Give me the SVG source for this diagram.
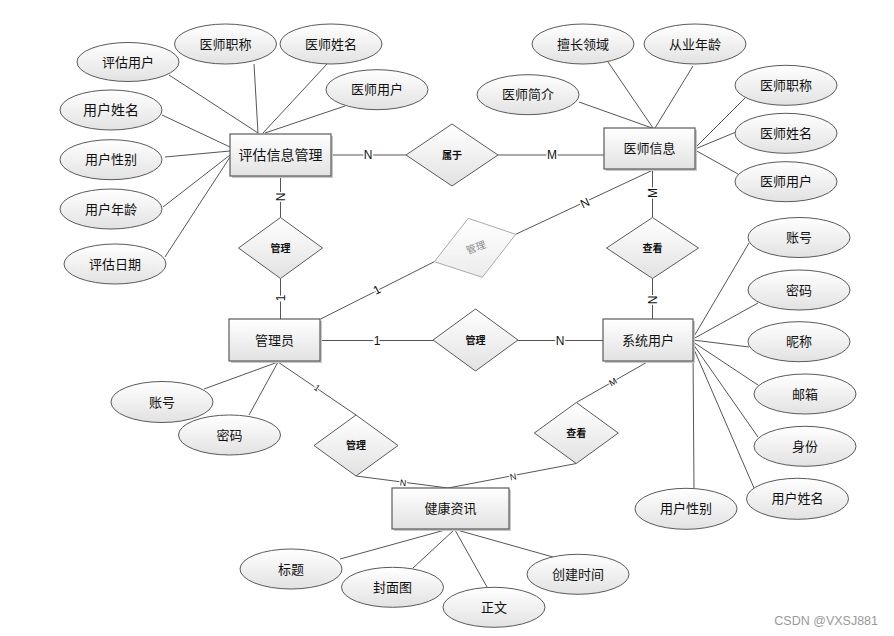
<svg xmlns="http://www.w3.org/2000/svg" width="894" height="636" viewBox="0 0 894 636">
<defs>
<linearGradient id="g" x1="0" y1="0" x2="0" y2="1">
<stop offset="0" stop-color="#ffffff"/>
<stop offset="1" stop-color="#e2e2e2"/>
</linearGradient>
<linearGradient id="gl" x1="0" y1="0" x2="0" y2="1">
<stop offset="0" stop-color="#ffffff"/>
<stop offset="1" stop-color="#ececec"/>
</linearGradient>
<style>
text{font-family:"Liberation Sans","Noto Sans CJK SC",sans-serif;fill:#111;text-anchor:middle;dominant-baseline:central}
.ent rect.b{fill:url(#g);stroke:#5a5a5a;stroke-width:1.2}
.ent rect.s{fill:#c8c8c8}
.ent text{font-size:13px}
.att ellipse{fill:url(#g);stroke:#5a5a5a;stroke-width:1}
.att text{font-size:13px}
.rel polygon{fill:url(#g);stroke:#5a5a5a;stroke-width:1}
.rel text{font-size:10px;font-weight:bold}
#connectors line{stroke:#555;stroke-width:1}
.lb{font-size:12px;stroke:#fff;stroke-width:3;paint-order:stroke}
.ls{font-size:9px;stroke:#fff;stroke-width:2.5;paint-order:stroke}
</style>
</defs>
<rect width="894" height="636" fill="#fff"/>

<g id="connectors">
<!-- 评估信息管理 attributes -->
<line x1="169" y1="75" x2="258" y2="133"/>
<line x1="254" y1="64" x2="258" y2="133"/>
<line x1="327" y1="64" x2="263" y2="133"/>
<line x1="345" y1="106" x2="265" y2="133"/>
<line x1="162" y1="115" x2="230" y2="147"/>
<line x1="165" y1="157" x2="230" y2="151"/>
<line x1="163" y1="207" x2="230" y2="155"/>
<line x1="165" y1="257" x2="230" y2="157"/>
<!-- 医师信息 attributes -->
<line x1="579" y1="102" x2="652" y2="128"/>
<line x1="608" y1="62" x2="653" y2="128"/>
<line x1="693" y1="66" x2="655" y2="128"/>
<line x1="745" y1="98" x2="695" y2="148"/>
<line x1="736" y1="132" x2="695" y2="149"/>
<line x1="738" y1="174" x2="695" y2="150"/>
<!-- 系统用户 attributes -->
<line x1="749" y1="243" x2="693" y2="338"/>
<line x1="758" y1="303" x2="693" y2="339"/>
<line x1="749" y1="347" x2="693" y2="340"/>
<line x1="758" y1="385" x2="693" y2="342"/>
<line x1="758" y1="437" x2="693" y2="344"/>
<line x1="754" y1="488" x2="693" y2="347"/>
<line x1="694" y1="488" x2="693" y2="350"/>
<!-- 管理员 attributes -->
<line x1="204" y1="389" x2="278" y2="362"/>
<line x1="249" y1="415" x2="278" y2="362"/>
<!-- 健康资讯 attributes -->
<line x1="340" y1="559" x2="445" y2="530"/>
<line x1="413" y1="568" x2="454" y2="530"/>
<line x1="487" y1="587" x2="455" y2="530"/>
<line x1="553" y1="557" x2="457" y2="530"/>
<!-- relationships -->
<line x1="331" y1="155" x2="406" y2="155"/>
<line x1="498" y1="155" x2="604" y2="155"/>
<line x1="280.5" y1="176" x2="280.5" y2="217.5"/>
<line x1="280.5" y1="278.5" x2="280.5" y2="319"/>
<line x1="652.5" y1="169" x2="652.5" y2="217.5"/>
<line x1="652.5" y1="278.5" x2="652.5" y2="319"/>
<line x1="653" y1="170" x2="515.7" y2="234.3"/>
<line x1="434.3" y1="261.7" x2="320.7" y2="319"/>
<line x1="320" y1="340.5" x2="433" y2="340.5"/>
<line x1="518" y1="340.5" x2="603" y2="340.5"/>
<line x1="278" y1="362" x2="356" y2="415"/>
<line x1="356" y1="476" x2="448" y2="488"/>
<line x1="649" y1="361" x2="576.3" y2="402.5"/>
<line x1="576.3" y1="463.5" x2="448" y2="488"/>
<!-- cardinality labels -->
<text class="lb" x="368" y="155">N</text>
<text class="lb" x="552" y="155">M</text>
<text class="lb" transform="translate(280.5,197) rotate(-90)">N</text>
<text class="lb" transform="translate(280.5,298) rotate(-90)">1</text>
<text class="lb" transform="translate(652.5,193) rotate(-90)">M</text>
<text class="lb" transform="translate(652.5,300) rotate(-90)">N</text>
<text class="lb" transform="translate(585,203) rotate(-25)">N</text>
<text class="lb" transform="translate(377,290) rotate(-27)">1</text>
<text class="lb" x="377" y="341">1</text>
<text class="lb" x="560" y="341">N</text>
<text class="ls" transform="translate(317,388) rotate(34)">1</text>
<text class="ls" transform="translate(403,483) rotate(7)">N</text>
<text class="ls" transform="translate(513,477) rotate(-11)">N</text>
<text class="ls" transform="translate(613,382) rotate(-30)">M</text>
</g>

<!-- entities -->
<g id="e-pinggu" class="ent"><rect class="s" x="232" y="136" width="101" height="42"/><rect class="b" x="230" y="134" width="101" height="42"/><text x="280.5" y="155" style="font-size:14px">评估信息管理</text></g>
<g id="e-yishi" class="ent"><rect class="s" x="606" y="130" width="91" height="41"/><rect class="b" x="604" y="128" width="91" height="41"/><text x="649.5" y="148.5">医师信息</text></g>
<g id="e-admin" class="ent"><rect class="s" x="231" y="321" width="91" height="42"/><rect class="b" x="229" y="319" width="91" height="42"/><text x="274.5" y="340">管理员</text></g>
<g id="e-user" class="ent"><rect class="s" x="605" y="321" width="90" height="42"/><rect class="b" x="603" y="319" width="90" height="42"/><text x="648" y="340">系统用户</text></g>
<g id="e-news" class="ent"><rect class="s" x="394" y="490" width="117" height="41"/><rect class="b" x="392" y="488" width="117" height="41"/><text x="450.5" y="508.5">健康资讯</text></g>

<!-- relationships -->
<g id="r-shuyu" class="rel"><polygon points="406,155 452,124 498,155 452,186"/><text x="452" y="155">属于</text></g>
<g id="r-guanli1" class="rel"><polygon points="238.5,248 280.5,217.5 322.5,248 280.5,278.5"/><text x="280.5" y="248">管理</text></g>
<g id="r-guanli2" class="rel"><polygon points="468.3,218.3 515.7,234.3 482.3,277.3 434.3,261.7" style="fill:url(#gl);stroke:#aaa"/><text transform="translate(476,247.5) rotate(-20)" style="fill:#888;font-weight:normal">管理</text></g>
<g id="r-chakan1" class="rel"><polygon points="606.5,248 652.5,217.5 698.5,248 652.5,278.5"/><text x="652.5" y="248">查看</text></g>
<g id="r-guanli3" class="rel"><polygon points="433,340 475.5,309 518,340 475.5,371"/><text x="475.5" y="340">管理</text></g>
<g id="r-guanli4" class="rel"><polygon points="314,445.5 356,415 398,445.5 356,476"/><text x="356" y="445.5">管理</text></g>
<g id="r-chakan2" class="rel"><polygon points="534.3,433 576.3,402.5 618.3,433 576.3,463.5"/><text x="576.3" y="433">查看</text></g>

<!-- attributes -->
<g id="a1" class="att"><ellipse cx="128" cy="62" rx="51" ry="19.5"/><text x="128" y="62">评估用户</text></g>
<g id="a2" class="att"><ellipse cx="225.5" cy="44" rx="51" ry="20"/><text x="225.5" y="44">医师职称</text></g>
<g id="a3" class="att"><ellipse cx="331" cy="44" rx="51" ry="20"/><text x="331" y="44">医师姓名</text></g>
<g id="a4" class="att"><ellipse cx="377" cy="89.7" rx="51" ry="20"/><text x="377" y="89.7">医师用户</text></g>
<g id="a5" class="att"><ellipse cx="111" cy="110" rx="51" ry="20"/><text x="111" y="110" style="font-size:14px">用户姓名</text></g>
<g id="a6" class="att"><ellipse cx="111" cy="159.7" rx="51" ry="20"/><text x="111" y="159.7">用户性别</text></g>
<g id="a7" class="att"><ellipse cx="111" cy="209" rx="51" ry="20"/><text x="111" y="209">用户年龄</text></g>
<g id="a8" class="att"><ellipse cx="115" cy="264" rx="51" ry="20"/><text x="115" y="264">评估日期</text></g>
<g id="a9" class="att"><ellipse cx="583" cy="44" rx="51" ry="20"/><text x="583" y="44">擅长领域</text></g>
<g id="a10" class="att"><ellipse cx="695" cy="44" rx="51" ry="20"/><text x="695" y="44">从业年龄</text></g>
<g id="a11" class="att"><ellipse cx="528" cy="94.7" rx="51" ry="20"/><text x="528" y="94.7">医师简介</text></g>
<g id="a12" class="att"><ellipse cx="786" cy="85.3" rx="51" ry="20"/><text x="786" y="85.3">医师职称</text></g>
<g id="a13" class="att"><ellipse cx="786" cy="133.3" rx="51" ry="20"/><text x="786" y="133.3">医师姓名</text></g>
<g id="a14" class="att"><ellipse cx="786" cy="181.7" rx="51" ry="20"/><text x="786" y="181.7">医师用户</text></g>
<g id="a15" class="att"><ellipse cx="799" cy="237.5" rx="51" ry="20"/><text x="799" y="237.5">账号</text></g>
<g id="a16" class="att"><ellipse cx="799" cy="290" rx="51" ry="20"/><text x="799" y="290">密码</text></g>
<g id="a17" class="att"><ellipse cx="799" cy="341.7" rx="51" ry="20"/><text x="799" y="341.7">昵称</text></g>
<g id="a18" class="att"><ellipse cx="805" cy="394" rx="51" ry="20"/><text x="805" y="394">邮箱</text></g>
<g id="a19" class="att"><ellipse cx="805" cy="446.3" rx="51" ry="20"/><text x="805" y="446.3">身份</text></g>
<g id="a20" class="att"><ellipse cx="797.5" cy="498.8" rx="51" ry="20.5"/><text x="797.5" y="498.8">用户姓名</text></g>
<g id="a21" class="att"><ellipse cx="686" cy="508.8" rx="51" ry="20.5"/><text x="686" y="508.8">用户性别</text></g>
<g id="a22" class="att"><ellipse cx="162" cy="402" rx="51" ry="20.5"/><text x="162" y="402">账号</text></g>
<g id="a23" class="att"><ellipse cx="229.5" cy="435" rx="51" ry="20"/><text x="229.5" y="435">密码</text></g>
<g id="a24" class="att"><ellipse cx="291" cy="569" rx="51" ry="20"/><text x="291" y="569">标题</text></g>
<g id="a25" class="att"><ellipse cx="392.5" cy="587.3" rx="51" ry="20"/><text x="392.5" y="587.3">封面图</text></g>
<g id="a26" class="att"><ellipse cx="494" cy="607.3" rx="51" ry="20"/><text x="494" y="607.3">正文</text></g>
<g id="a27" class="att"><ellipse cx="578" cy="574.3" rx="51" ry="20"/><text x="578" y="574.3">创建时间</text></g>

<text x="878" y="621" style="font-size:12.5px;fill:#999;text-anchor:end">CSDN @VXSJ881</text>
</svg>
